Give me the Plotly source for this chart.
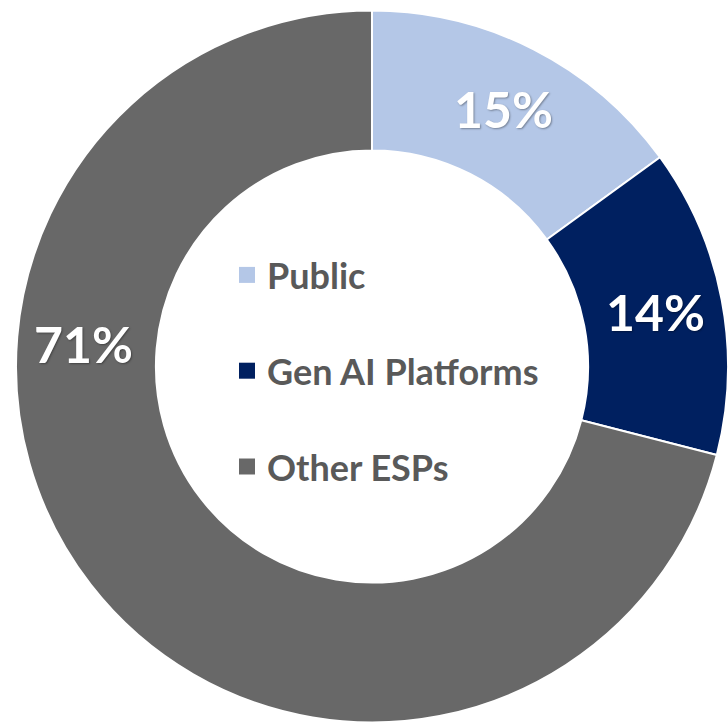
import math
import plotly.graph_objects as go

labels = ["Public", "Gen AI Platforms", "Other ESPs"]
values = [15, 14, 71]
colors = ["#B4C7E7", "#002060", "#686868"]

W, H = 728, 727
CX, CY = 372, 366.5      # pie centre in figure px
R = 356                  # outer radius px
HOLE = 0.607
LABEL_R = 289
ANGLE_OVERRIDE = {2: 274.5}   # the big slice label sits on the left side

fig = go.Figure()
fig.add_trace(go.Pie(
    labels=labels, values=values, sort=False, direction="clockwise", rotation=0,
    hole=HOLE, textinfo="none", hoverinfo="label+percent",
    marker=dict(colors=colors, line=dict(color="white", width=2)),
    domain=dict(x=[max(0, (CX - R) / W), min(1, (CX + R) / W)],
                y=[max(0, 1 - (CY + R) / H), min(1, 1 - (CY - R) / H)]),
    showlegend=False,
))

# legend entries (one legend group each so spacing can be controlled)
for lab, col in zip(labels, colors):
    fig.add_trace(go.Scatter(
        x=[None], y=[None], mode="markers", name=lab, legendgroup=lab,
        marker=dict(symbol="square", size=16, color=col),
    ))

# percentage labels
total = sum(values)
cum = 0
for i, v in enumerate(values):
    mid = (cum + v / 2) / total * 360
    cum += v
    ang = math.radians(ANGLE_OVERRIDE.get(i, mid))
    px = CX + LABEL_R * math.sin(ang)
    py = CY - LABEL_R * math.cos(ang)
    fig.add_annotation(
        x=px / W, y=1 - py / H, xref="paper", yref="paper",
        text=f"{round(v / total * 100)}%", showarrow=False,
        font=dict(family="Lato", size=50, color="white", weight="bold",
                  shadow="1px 1px 2px rgba(0,0,0,0.35)"),
        xanchor="center", yanchor="middle",
    )

fig.update_layout(
    width=W, height=H, margin=dict(l=0, r=0, t=0, b=0),
    paper_bgcolor="white", plot_bgcolor="white",
    xaxis=dict(visible=False), yaxis=dict(visible=False),
    legend=dict(
        x=227 / W, y=1 - 371 / H, xanchor="left", yanchor="middle",
        font=dict(family="Lato", size=36, color="#595959", weight="bold"),
        tracegroupgap=46, bgcolor="rgba(0,0,0,0)",
    ),
)

fig.write_html("out.html", config={"displayModeBar": False},
               post_script="document.body.style.margin='0px';document.body.style.overflow='hidden';")
